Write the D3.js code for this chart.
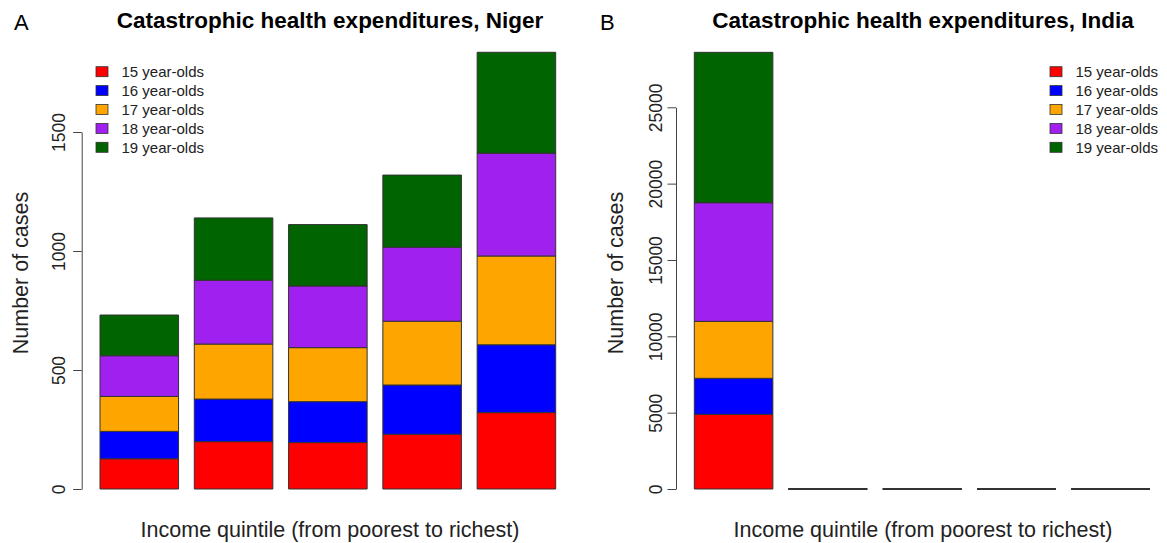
<!DOCTYPE html>
<html>
<head>
<meta charset="utf-8">
<style>
body { margin: 0; background: #fff; }
svg { display: block; font-family: "Liberation Sans", Arial, Helvetica, sans-serif; }
</style>
</head>
<body>
<svg id="chart" width="1167" height="543"></svg>
<script src="https://d3js.org/d3.v7.min.js"></script>
<script>
// data
var quintiles = ["Q1", "Q2", "Q3", "Q4", "Q5"];
var ageGroups = ["15 year-olds", "16 year-olds", "17 year-olds", "18 year-olds", "19 year-olds"];
var ageColors = ["#ff0000", "#0000ff", "#ffa500", "#a020f0", "#006400"];

var niger15 = [127, 199, 195, 230, 321];
var niger16 = [115, 179, 172, 207, 285];
var niger17 = [147, 231, 227, 268, 373];
var niger18 = [171, 268, 259, 311, 432];
var niger19 = [171, 262, 258, 303, 424];

var india15 = [4890, 0, 0, 0, 0];
var india16 = [2360, 0, 0, 0, 0];
var india17 = [3730, 0, 0, 0, 0];
var india18 = [7770, 0, 0, 0, 0];
var india19 = [9850, 0, 0, 0, 0];

var nigerTicks = [0, 500, 1000, 1500];
var indiaTicks = [0, 5000, 10000, 15000, 20000, 25000];

function toRows(series) {
  return quintiles.map(function(q, i) {
    var row = {q: q};
    ageGroups.forEach(function(a, j) { row[a] = series[j][i]; });
    return row;
  });
}

var svg = d3.select("#chart");

function panel(opt) {
  var g = svg.append("g");
  var x = d3.scaleBand().domain(quintiles).range(opt.xr).paddingInner(0.2 / 1.2).paddingOuter(0);
  var y = d3.scaleLinear().domain(opt.ydom).range([489, opt.ytop]);

  var stacked = d3.stack().keys(ageGroups)(toRows(opt.series));

  stacked.forEach(function(layer, j) {
    g.selectAll(null).data(layer).enter().append("path")
      .attr("d", function(d) {
        var x0 = x(d.data.q), x1 = x0 + x.bandwidth();
        var y0 = y(d[0]), y1 = y(d[1]);
        return "M" + x0 + "," + y0 + "H" + x1 + "V" + y1 + "H" + x0 + "Z";
      })
      .attr("fill", ageColors[j])
      .attr("stroke", "#333")
      .attr("stroke-width", 1);
  });

  var ax = g.append("g")
    .attr("transform", "translate(" + opt.axisX + ",0)")
    .call(d3.axisLeft(y).tickValues(opt.ticks).tickSize(8.5).tickSizeOuter(0).tickFormat(d3.format("d")));
  ax.select(".domain").attr("stroke", "#444");
  ax.selectAll(".tick line").attr("stroke", "#444");
  ax.selectAll(".tick text")
    .attr("x", null).attr("dy", null)
    .attr("transform", "rotate(-90)")
    .attr("y", -opt.labOff)
    .attr("text-anchor", "middle")
    .attr("fill", "#222")
    .style("font-size", "17.5px");

  g.append("text")
    .attr("x", opt.cx).attr("y", 28)
    .attr("text-anchor", "middle")
    .style("font-size", "22.5px").style("font-weight", "bold")
    .text(opt.title);

  g.append("text")
    .attr("x", opt.letterX).attr("y", 29.5)
    .style("font-size", "22px")
    .text(opt.letter);

  g.append("text")
    .attr("x", opt.cx).attr("y", 537)
    .attr("text-anchor", "middle")
    .attr("fill", "#222")
    .style("font-size", "21.5px")
    .text("Income quintile (from poorest to richest)");

  g.append("text")
    .attr("transform", "translate(" + opt.ylabX + ",273) rotate(-90)")
    .attr("text-anchor", "middle")
    .attr("fill", "#222")
    .style("font-size", "21.5px")
    .text("Number of cases");

  var leg = g.append("g").attr("transform", "translate(" + opt.legX + ",71.7)");
  ageGroups.forEach(function(a, j) {
    var r = leg.append("g").attr("transform", "translate(0," + (j * 18.9) + ")");
    r.append("rect").attr("x", 0).attr("y", -5).attr("width", 12).attr("height", 10)
      .attr("fill", ageColors[j]).attr("stroke", "#333").attr("stroke-width", 0.8);
    r.append("text").attr("x", 25.5).attr("y", 5.5)
      .attr("fill", "#222")
      .style("font-size", "15px").text(a);
  });
}

panel({
  series: [niger15, niger16, niger17, niger18, niger19],
  xr: [100, 555.7], ydom: [0, 1500], ytop: 132, ticks: nigerTicks,
  axisX: 81.7, labOff: 16.7, cx: 330, letter: "A", letterX: 14,
  ylabX: 28.4, legX: 96,
  title: "Catastrophic health expenditures, Niger"
});

panel({
  series: [india15, india16, india17, india18, india19],
  xr: [694.3, 1150], ydom: [0, 25000], ytop: 107.3, ticks: indiaTicks,
  axisX: 676, labOff: 14.5, cx: 923, letter: "B", letterX: 600,
  ylabX: 622.5, legX: 1050,
  title: "Catastrophic health expenditures, India"
});
</script>
</body>
</html>
